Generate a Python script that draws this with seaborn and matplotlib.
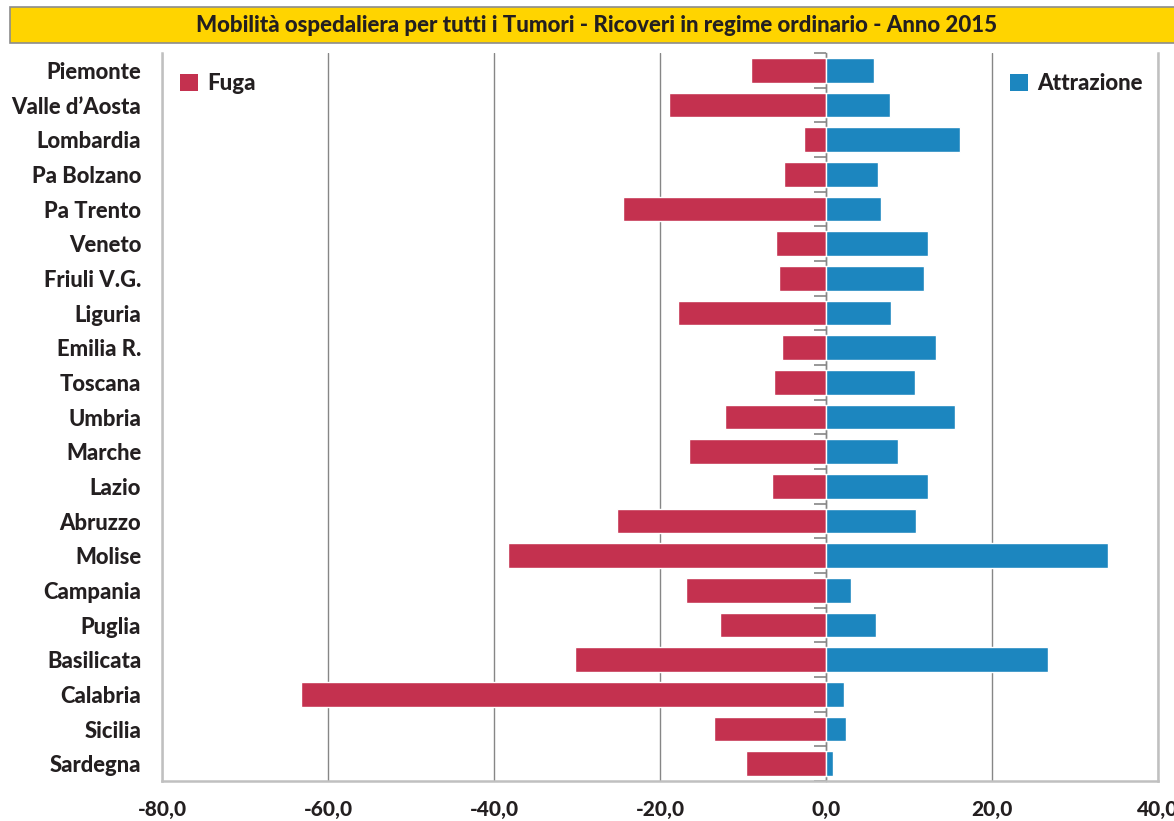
import numpy as np
import pandas as pd
import matplotlib
matplotlib.use("Agg")
import matplotlib.pyplot as plt
from matplotlib.patches import Rectangle, Patch
from matplotlib.ticker import FuncFormatter
import seaborn as sns

regioni = ["Piemonte", "Valle d\u2019Aosta", "Lombardia", "Pa Bolzano", "Pa Trento",
           "Veneto", "Friuli V.G.", "Liguria", "Emilia R.", "Toscana", "Umbria",
           "Marche", "Lazio", "Abruzzo", "Molise", "Campania", "Puglia",
           "Basilicata", "Calabria", "Sicilia", "Sardegna"]
fuga = [-9.0, -18.9, -2.7, -5.1, -24.5, -6.0, -5.7, -17.8, -5.3, -6.3, -12.2,
        -16.5, -6.5, -25.2, -38.3, -16.9, -12.8, -30.2, -63.3, -13.5, -9.6]
attrazione = [5.8, 7.7, 16.1, 6.3, 6.6, 12.3, 11.8, 7.8, 13.3, 10.7, 15.5,
              8.7, 12.3, 10.8, 34.0, 3.0, 6.0, 26.7, 2.2, 2.4, 0.8]
x_ticks = [-80, -60, -40, -20, 0, 20, 40]
titolo = "Mobilit\u00e0 ospedaliera per tutti i Tumori - Ricoveri in regime ordinario - Anno 2015"
serie = ["Fuga", "Attrazione"]

RED = "#C4314F"
BLUE = "#1C86BF"
TXT = "#231F20"
GRID = "#868686"
LIGHT = "#C0C0C0"
WT = "black"

sns.set_style("white")
plt.rcParams["font.family"] = ["Lato", "DejaVu Sans"]
plt.rcParams["font.weight"] = WT

df = pd.DataFrame({"regione": regioni, "fuga": fuga, "attrazione": attrazione})

W, H = 1174, 821
fig = plt.figure(figsize=(W / 100, H / 100), dpi=100)
ax = fig.add_axes([162 / W, 1 - 781 / H, (1158 - 162) / W, (781 - 53) / H])

sns.barplot(data=df, x="fuga", y="regione", orient="h", color=RED, width=0.72,
            saturation=1, ax=ax, zorder=2)
sns.barplot(data=df, x="attrazione", y="regione", orient="h", color=BLUE, width=0.72,
            saturation=1, ax=ax, zorder=2)

ax.set_xlim(x_ticks[0], x_ticks[-1])
ax.set_ylim(len(regioni) - 0.5, -0.5)
ax.set_xlabel("")
ax.set_ylabel("")
ax.set_xticks(x_ticks)
ax.xaxis.set_major_formatter(FuncFormatter(lambda v, p: f"{v:.1f}".replace(".", ",")))
ax.tick_params(axis="x", length=7, width=1.2, color=GRID, pad=7, labelsize=15,
               labelcolor=TXT)
ax.tick_params(axis="y", length=0, pad=15, labelsize=15.8, labelcolor=TXT)
for lab in ax.get_xticklabels() + ax.get_yticklabels():
    lab.set_fontweight(WT)

ax.set_axisbelow(True)
ax.grid(axis="x", color=GRID, linewidth=1.0)
ax.grid(axis="y", visible=False)
ax.spines["top"].set_visible(False)
for s in ["left", "right", "bottom"]:
    ax.spines[s].set_color(LIGHT)
    ax.spines[s].set_linewidth(1.8)
    ax.spines[s].set_zorder(3)

# zero axis with category boundary ticks
zero_frac = (0 - x_ticks[0]) / (x_ticks[-1] - x_ticks[0])
sec = ax.secondary_yaxis(zero_frac)
sec.set_yticks(np.arange(-0.5, len(regioni), 1.0))
sec.set_yticklabels([])
sec.tick_params(axis="y", direction="in", length=9, width=1.2, color=GRID)
for s in ["left", "right"]:
    sec.spines[s].set_color(GRID)
    sec.spines[s].set_linewidth(1.0)

# legends
h_f = Patch(facecolor=RED, edgecolor="none")
h_a = Patch(facecolor=BLUE, edgecolor="none")
legkw = dict(frameon=False, handlelength=0.8, handleheight=0.8, handletextpad=0.45,
             borderaxespad=0, borderpad=0, prop={"weight": WT, "size": 16})
leg1 = ax.legend([h_f], [serie[0]], loc="upper left", bbox_to_anchor=(0.018, 0.972),
                 **legkw)
for t in leg1.get_texts():
    t.set_color(TXT)
ax.add_artist(leg1)
leg2 = ax.legend([h_a], [serie[1]], loc="upper right", bbox_to_anchor=(0.985, 0.972),
                 **legkw)
for t in leg2.get_texts():
    t.set_color(TXT)

# title band
fig.patches.append(Rectangle((10 / W, 1 - 43 / H), 1.2, 36 / H, transform=fig.transFigure,
                             facecolor="#FFD400", edgecolor="#8C8C8C", linewidth=1.2,
                             zorder=0))
fig.text(597 / W, 1 - 25 / H, titolo, ha="center", va="center", fontsize=16,
         fontweight=WT, color=TXT)

fig.savefig("out.png", dpi=100)
